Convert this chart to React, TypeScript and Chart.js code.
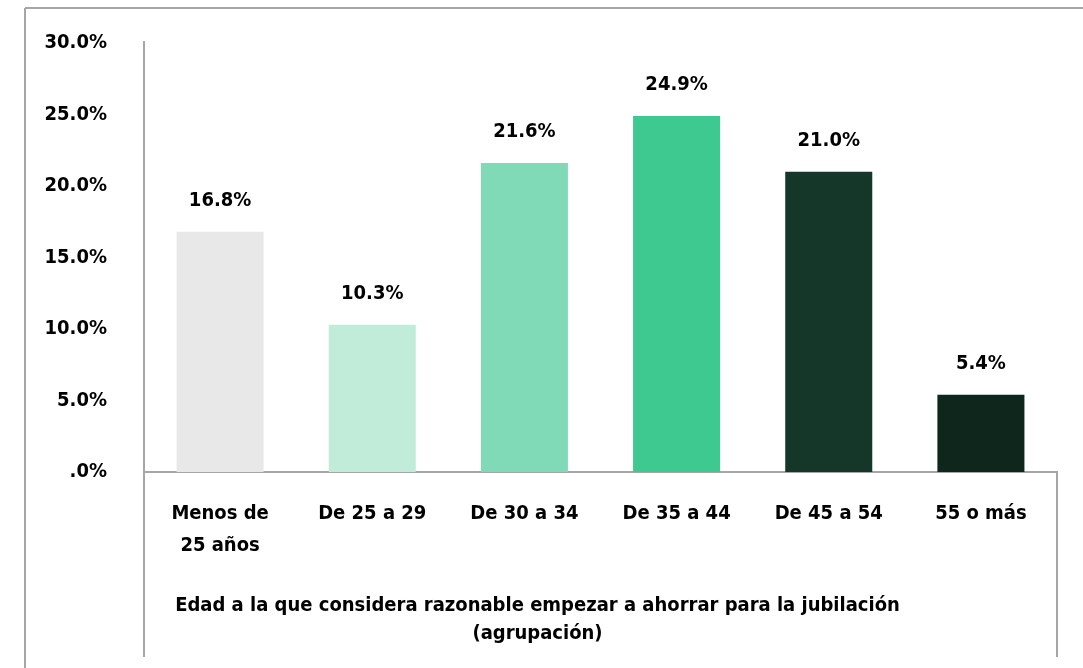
import React, { useEffect, useRef } from "react";
import { Chart, registerables } from "chart.js";

Chart.register(...registerables);

const categories: (string | string[])[] = [
  ["Menos de", "25 años"],
  "De 25 a 29",
  "De 30 a 34",
  "De 35 a 44",
  "De 45 a 54",
  "55 o más",
];
const values = [16.8, 10.3, 21.6, 24.9, 21.0, 5.4];
const barColors = ["#e8e8e8", "#c1ecd9", "#80d9b7", "#3ec991", "#14372a", "#0e261c"];
const axisTitle = [
  "Edad a la que considera razonable empezar a ahorrar para la jubilación",
  "(agrupación)",
];
const yMin = 0;
const yMax = 30;
const yStep = 5;

const FONT = "'DejaVu Sans Condensed', 'Liberation Sans Narrow', sans-serif";
const LINE = "#a6a6a6";
const FS = 20;

const decorPlugin = {
  id: "decor",
  afterDraw(chart: any) {
    const { ctx, chartArea, width, height } = chart;
    ctx.save();
    ctx.strokeStyle = LINE;
    ctx.lineWidth = 2;
    ctx.beginPath();
    // outer frame (top + left)
    ctx.moveTo(25, 8);
    ctx.lineTo(width, 8);
    ctx.moveTo(25, 8);
    ctx.lineTo(25, height);
    // y-axis line extended
    ctx.moveTo(chartArea.left, chartArea.top - 2);
    ctx.lineTo(chartArea.left, height - 11);
    // right line below axis
    ctx.moveTo(chartArea.right, chartArea.bottom);
    ctx.lineTo(chartArea.right, height - 11);
    ctx.stroke();

    // data labels
    const meta = chart.getDatasetMeta(0);
    ctx.fillStyle = "#000";
    ctx.font = `bold ${FS}px ${FONT}`;
    ctx.textAlign = "center";
    ctx.textBaseline = "middle";
    meta.data.forEach((el: any, i: number) => {
      const v = chart.data.datasets[0].data[i] as number;
      ctx.fillText(v.toFixed(1) + "%", el.x, el.y - 31);
    });
    ctx.restore();
  },
};

export default function App() {
  const ref = useRef<HTMLCanvasElement | null>(null);
  useEffect(() => {
    if (!ref.current) return;
    const chart = new Chart(ref.current, {
      type: "bar",
      data: {
        labels: categories,
        datasets: [
          {
            data: values,
            backgroundColor: barColors,
            categoryPercentage: 1,
            barPercentage: 0.572,
          },
        ],
      },
      options: {
        animation: false,
        responsive: false,
        layout: { padding: { top: 43, right: 26, left: 18, bottom: 0 } },
        plugins: {
          legend: { display: false },
          tooltip: { enabled: false },
          title: {
            display: true,
            position: "bottom",
            text: axisTitle,
            color: "#000",
            font: { family: FONT, size: FS, weight: "bold", lineHeight: 1.4 },
            padding: { top: 10, bottom: 20 },
          },
        },
        scales: {
          x: {
            grid: { display: false, drawTicks: false },
            border: { display: true, color: LINE, width: 2 },
            ticks: {
              color: "#000",
              padding: 26,
              maxRotation: 0,
              autoSkip: false,
              font: { family: FONT, size: FS, weight: "bold", lineHeight: 1.6 },
            },
            afterFit(scale: any) {
              scale.height = 110;
              scale.paddingLeft = 0;
              scale.paddingRight = 0;
            },
          },
          y: {
            min: yMin,
            max: yMax,
            grid: { display: false, drawTicks: false },
            border: { display: false },
            ticks: {
              stepSize: yStep,
              color: "#000",
              padding: 37,
              font: { family: FONT, size: FS, weight: "bold" },
              callback: (v: any) => (Number(v) === 0 ? ".0%" : Number(v).toFixed(1) + "%"),
            },
            afterFit(scale: any) {
              scale.width = 126;
              scale.paddingTop = 0;
              scale.paddingBottom = 0;
            },
          },
        },
      },
      plugins: [decorPlugin],
    });
    return () => chart.destroy();
  }, []);
  return (
    <div style={{ position: "fixed", left: 0, top: 0, width: 1083, height: 668, background: "#fff" }}>
      <canvas ref={ref} width={1083} height={668} style={{ display: "block" }} />
    </div>
  );
}
